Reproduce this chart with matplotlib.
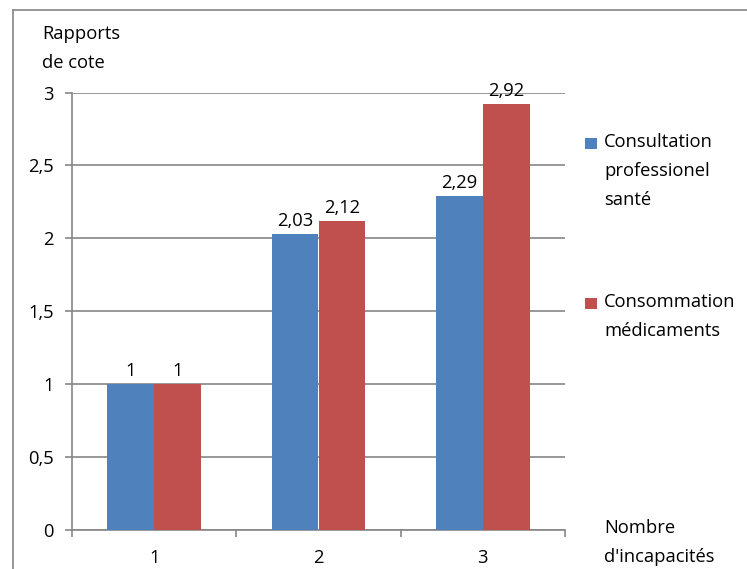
import numpy as np
import matplotlib
matplotlib.use('Agg')
import matplotlib.pyplot as plt
from matplotlib.lines import Line2D
from matplotlib.patches import Rectangle

categories = ['1', '2', '3']
consultation = [1, 2.03, 2.29]
medicaments = [1, 2.12, 2.92]
consultation_labels = ['1', '2,03', '2,29']
medicaments_labels = ['1', '2,12', '2,92']
y_ticks = [0, 0.5, 1, 1.5, 2, 2.5, 3]
y_tick_labels = ['0', '0,5', '1', '1,5', '2', '2,5', '3']
series_names = ['Consultation\nprofessionel\nsanté', 'Consommation\nmédicaments']

plt.rcParams['font.family'] = ['Open Sans', 'DejaVu Sans']
fs = 13.2
grey = '#868686'
blue = '#4F81BD'
red = '#C0504D'

W, H = 747, 569
fig = plt.figure(figsize=(W / 100, H / 100), dpi=100)

# chart border (left and top visible, rest cut off)
fig.add_artist(Line2D([13 / W, 13 / W], [0, 1 - 10 / H], color=grey, lw=1.2))
fig.add_artist(Line2D([13 / W, 1], [1 - 10 / H, 1 - 10 / H], color=grey, lw=1.2))

x0, x1 = 72 / W, 565 / W
y0, y1 = 1 - 530 / H, 1 - 92.5 / H
ax = fig.add_axes([x0, y0, x1 - x0, y1 - y0])

x = np.arange(len(categories))
w = 1 / 3.5
ax.bar(x - w / 2, consultation, w, color=blue, zorder=3)
ax.bar(x + w / 2, medicaments, w, color=red, zorder=3)

for xi, v, s in zip(x - w / 2, consultation, consultation_labels):
    ax.annotate(s, (xi, v), xytext=(0, 3), textcoords='offset points',
                ha='center', va='bottom', fontsize=fs)
for xi, v, s in zip(x + w / 2, medicaments, medicaments_labels):
    ax.annotate(s, (xi, v), xytext=(0, 3), textcoords='offset points',
                ha='center', va='bottom', fontsize=fs)

ax.set_xlim(-0.5, 2.5)
ax.set_ylim(0, 3)
ax.set_yticks(y_ticks)
ax.set_yticklabels(y_tick_labels, fontsize=fs)
ax.yaxis.grid(True, color=grey, lw=1.2, zorder=0)
ax.set_xticks(x)
ax.set_xticklabels(categories, fontsize=fs)
ax.set_xticks([-0.5, 0.5, 1.5, 2.5], minor=True)
ax.tick_params(axis='x', which='major', length=0, pad=14)
ax.tick_params(axis='x', which='minor', length=5, color=grey, width=1.2, direction='out')
ax.tick_params(axis='y', length=5, color=grey, width=1.2, pad=8)
for side in ['top', 'right']:
    ax.spines[side].set_visible(False)
for side in ['left', 'bottom']:
    ax.spines[side].set_color(grey)
    ax.spines[side].set_linewidth(1.2)

fig.text(42 / W, 1 - 48.5 / H, 'Rapports\nde cote', fontsize=fs, va='center',
         ha='left', linespacing=1.8)
fig.text(604 / W, 1 - 542.5 / H, "Nombre\nd'incapacités", fontsize=fs, va='center',
         ha='left', linespacing=1.8)

# legend: square beside first line of each entry
legend_y = [143, 303]
for name, col, yc in zip(series_names, [blue, red], legend_y):
    fig.add_artist(Rectangle((585 / W, 1 - (yc + 6) / H), 12 / W, 11 / H,
                             facecolor=col, edgecolor='none'))
    fig.text(604 / W, 1 - (yc - 10) / H, name, fontsize=fs, va='top',
             ha='left', linespacing=1.8)

fig.savefig('out.png', dpi=100)
